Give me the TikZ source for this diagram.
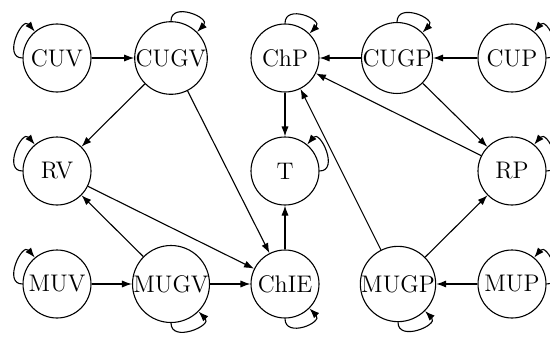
\documentclass[tikz,border=0pt]{standalone}
\usetikzlibrary{arrows.meta}
\begin{document}
\begin{tikzpicture}[x=0.5pt,y=-0.5pt,
  state/.style={circle,draw,inner sep=0pt,minimum size=34pt,font=\large},
  arr/.style={-{Latex[length=5pt,width=3.6pt]}},
  every path/.style={line width=0.55pt}]
\useasboundingbox (0,0) rectangle (550,342);
% row 1
\node[state] (cuv)  at (57,58)  {CUV};
\node[state] (cugv) at (171,58) {CUGV};
\node[state] (chp)  at (285,58) {ChP};
\node[state] (cugp) at (397,58) {CUGP};
\node[state] (cup)  at (512,58) {CUP};
% row 2
\node[state] (rv)   at (57,171)  {RV};
\node[state] (t)    at (285,171) {T};
\node[state] (rp)   at (512,171) {RP};
% row 3
\node[state] (muv)  at (57,284)  {MUV};
\node[state] (mugv) at (171,284) {MUGV};
\node[state] (chie) at (285,284) {ChIE};
\node[state] (mugp) at (398,284) {MUGP};
\node[state] (mup)  at (512,284) {MUP};
% edges
\draw[arr] (cuv) -- (cugv);
\draw[arr] (cugv) -- (rv);
\draw[arr] (cugv) -- (chie);
\draw[arr] (rv) -- (chie);
\draw[arr] (mugv) -- (rv);
\draw[arr] (muv) -- (mugv);
\draw[arr] (mugv) -- (chie);
\draw[arr] (chie) -- (t);
\draw[arr] (chp) -- (t);
\draw[arr] (cugp) -- (chp);
\draw[arr] (cup) -- (cugp);
\draw[arr] (cugp) -- (rp);
\draw[arr] (rp) -- (chp);
\draw[arr] (mugp) -- (chp);
\draw[arr] (mugp) -- (rp);
\draw[arr] (mup) -- (mugp);
% loops
\draw[arr] (cuv.180) .. controls +(180:10pt) and +(130:10pt) .. (cuv.130);
\draw[arr] (rv.180) .. controls +(180:10pt) and +(130:10pt) .. (rv.130);
\draw[arr] (muv.180) .. controls +(180:10pt) and +(130:10pt) .. (muv.130);
\draw[arr] (cugv.90) .. controls +(90:10pt) and +(45:10pt) .. (cugv.45);
\draw[arr] (chp.90) .. controls +(90:10pt) and +(45:10pt) .. (chp.45);
\draw[arr] (cugp.90) .. controls +(90:10pt) and +(45:10pt) .. (cugp.45);
\draw[arr] (t.0) .. controls +(0:10pt) and +(50:10pt) .. (t.50);
\draw[arr] (cup.0) .. controls +(0:10pt) and +(50:10pt) .. (cup.50);
\draw[arr] (rp.0) .. controls +(0:10pt) and +(50:10pt) .. (rp.50);
\draw[arr] (mup.0) .. controls +(0:10pt) and +(50:10pt) .. (mup.50);
\draw[arr] (mugv.270) .. controls +(270:10pt) and +(-45:10pt) .. (mugv.-45);
\draw[arr] (chie.270) .. controls +(270:10pt) and +(-45:10pt) .. (chie.-45);
\draw[arr] (mugp.270) .. controls +(270:10pt) and +(-45:10pt) .. (mugp.-45);
\end{tikzpicture}
\end{document}
